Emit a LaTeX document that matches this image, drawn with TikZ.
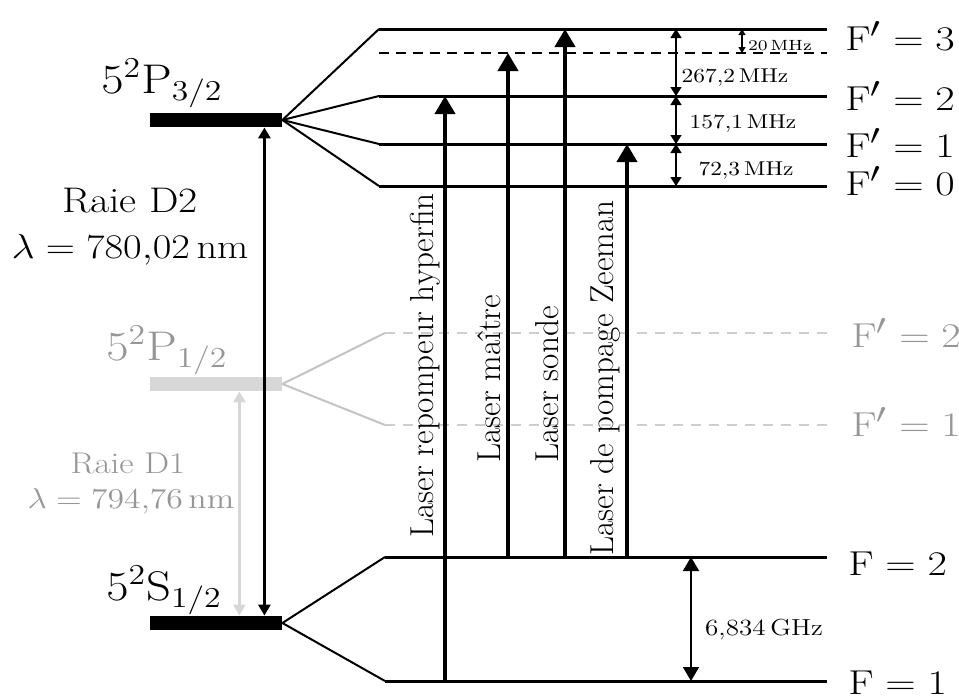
\documentclass[tikz,border=0pt]{standalone}
\usetikzlibrary{arrows.meta}
\definecolor{barg}{RGB}{215,215,215}
\definecolor{fang}{RGB}{195,195,195}
\definecolor{dashg}{RGB}{205,205,205}
\definecolor{txtg}{RGB}{150,150,150}
\newcommand{\wtxt}[1]{\scalebox{1.17}[1]{#1}}
\newcommand{\wftxt}[1]{\scalebox{1.22}[1]{#1}}
\begin{document}
\begin{tikzpicture}[x=0.5pt,y=-0.5pt,
  lvl/.style={line width=1.5pt},
  lvldash/.style={line width=1.2pt, dash pattern=on 5pt off 3.5pt},
  glvl/.style={line width=1pt, dashg, dash pattern=on 5pt off 4pt},
  fan/.style={line width=1pt},
  gfan/.style={line width=1pt, fang},
  bar/.style={rectangle, inner sep=0pt, minimum width=66pt, minimum height=7pt, fill=black},
  laser/.style={line width=2pt, -{Triangle[width=10pt,length=9pt]}},
  trans/.style={line width=1.5pt, {Triangle[width=6pt,length=5.5pt]}-{Triangle[width=6pt,length=5.5pt]}},
  gap/.style={line width=0.7pt, {Triangle[width=5.5pt,length=4.5pt]}-{Triangle[width=5.5pt,length=4.5pt]}},
  tiny/.style={line width=0.6pt, {Triangle[width=3.5pt,length=3pt]}-{Triangle[width=3.5pt,length=3pt]}},
  big/.style={line width=0.8pt, {Triangle[width=8pt,length=7pt]}-{Triangle[width=8pt,length=7pt]}},
  state/.style={anchor=base, font=\fontsize{22}{24}\selectfont},
  raie/.style={anchor=base, font=\fontsize{17.8}{20}\selectfont},
  raieg/.style={anchor=base, font=\fontsize{15}{17}\selectfont, text=txtg},
  flab/.style={anchor=base west, inner sep=0pt, font=\fontsize{19}{21}\selectfont},
  glab/.style={anchor=base, font=\fontsize{10}{12}\selectfont},
  laslab/.style={rotate=90, anchor=base west, inner sep=0pt, font=\fontsize{16.6}{18}\selectfont}
]
\useasboundingbox (0,0) rectangle (959,698);

% level end points
\coordinate (e3L) at (379,29);  \coordinate (e3R) at (827,29);
\coordinate (edL) at (379,53);  \coordinate (edR) at (827,53);
\coordinate (e2L) at (379,96);  \coordinate (e2R) at (827,96);
\coordinate (e1L) at (379,144); \coordinate (e1R) at (827,144);
\coordinate (e0L) at (379,186); \coordinate (e0R) at (827,186);
\coordinate (d2L) at (385,333); \coordinate (d2R) at (827,333);
\coordinate (d1L) at (385,425); \coordinate (d1R) at (827,425);
\coordinate (g2L) at (385,557); \coordinate (g2R) at (827,557);
\coordinate (g1L) at (385,681); \coordinate (g1R) at (827,681);

% bars
\node[bar] (P32) at (216,120) {};
\node[bar, fill=barg] (P12) at (216,384) {};
\node[bar] (S12) at (216,623) {};

% gray D1 part
\draw[gfan] (P12.east) -- (d2L);
\draw[gfan] (P12.east) -- (d1L);
\draw[glvl] (d2L) -- (d2R);
\draw[glvl] (d1L) -- (d1R);
\draw[line width=1.3pt, barg, {Triangle[width=6pt,length=5.5pt]}-{Triangle[width=6pt,length=5.5pt]}]
  ([xshift=-21.5pt]P12.south east) -- ([xshift=-21.5pt]S12.north east);

% hyperfine excited levels
\draw[lvl] (e3L) -- (e3R);
\draw[lvldash] (edL) -- (edR);
\draw[lvl] (e2L) -- (e2R);
\draw[lvl] (e1L) -- (e1R);
\draw[lvl] (e0L) -- (e0R);
\draw[fan] (P32.east) -- (e3L);
\draw[fan] (P32.east) -- (e2L);
\draw[fan] (P32.east) -- (e1L);
\draw[fan] (P32.east) -- (e0L);

% ground levels
\draw[lvl] (g2L) -- (g2R);
\draw[lvl] (g1L) -- (g1R);
\draw[fan] (S12.east) -- (g2L);
\draw[fan] (S12.east) -- (g1L);

% D2 transition
\draw[trans] ([xshift=-9pt]P32.south east) -- ([xshift=-9pt]S12.north east);

% lasers
\coordinate (xr) at (445,0);
\coordinate (xm) at (508,0);
\coordinate (xs) at (565,0);
\coordinate (xz) at (627,0);
\draw[laser] (xr |- g1L) -- (xr |- e2L);
\draw[laser] (xm |- g2L) -- (xm |- edL);
\draw[laser] (xs |- g2L) -- (xs |- e3L);
\draw[laser] (xz |- g2L) -- (xz |- e1L);

\node[laslab] (lr) at (433,538) {Laser repompeur hyperfin};
\node[laslab] (lm) at (500,463) {Laser ma\^{\i}tre};
\node[laslab] (ls) at (558,463) {Laser sonde};
\node[laslab] (lz) at (613,556) {Laser de pompage Zeeman};

% gaps
\coordinate (xg) at (676,0);
\coordinate (xt) at (742,0);
\coordinate (xb) at (691,0);
\draw[gap] (xg |- e3L) -- (xg |- e2L);
\draw[gap] (xg |- e2L) -- (xg |- e1L);
\draw[gap] (xg |- e1L) -- (xg |- e0L);
\draw[tiny] (xt |- e3L) -- (xt |- edL);
\draw[big] (xb |- g2L) -- (xb |- g1L);

\node[glab] (t267) at (735,82) {\wtxt{267,2\,MHz}};
\node[glab] (t157) at (743,128) {\wtxt{157,1\,MHz}};
\node[glab] (t72) at (746,175) {\wtxt{72,3\,MHz}};
\node[glab, font=\fontsize{7.4}{9}\selectfont] (t20) at (780,50) {\wtxt{20\,MHz}};
\node[glab, font=\fontsize{11.6}{14}\selectfont] (t6834) at (764,635) {\wtxt{6,834\,GHz}};

% state labels
\node[state] (tP32) at (162,93) {\wtxt{$5^2\mathrm{P}_{3/2}$}};
\node[state, text=txtg] (tP12) at (167,360) {\wtxt{$5^2\mathrm{P}_{1/2}$}};
\node[state] (tS12) at (164,600) {\wtxt{$5^2\mathrm{S}_{1/2}$}};

\node[raie] (tD2) at (130,212) {\wtxt{Raie D2}};
\node[raie] (tL2) at (130,258) {\wtxt{$\lambda = 780{,}02\,\mathrm{nm}$}};
\node[raieg] (tD1) at (128,473) {\wtxt{Raie D1}};
\node[raieg] (tL1) at (131,508) {\wtxt{$\lambda = 794{,}76\,\mathrm{nm}$}};

% F labels
\node[flab] (f3) at (845,50) {\wftxt{$\mathrm{F}' = 3$}};
\node[flab] (f2) at (845,110) {\wftxt{$\mathrm{F}' = 2$}};
\node[flab] (f1) at (845,157) {\wftxt{$\mathrm{F}' = 1$}};
\node[flab] (f0) at (845,195) {\wftxt{$\mathrm{F}' = 0$}};
\node[flab, text=txtg] (fd2) at (851,347) {\wftxt{$\mathrm{F}' = 2$}};
\node[flab, text=txtg] (fd1) at (851,436) {\wftxt{$\mathrm{F}' = 1$}};
\node[flab] (fg2) at (848,575) {\wftxt{$\mathrm{F} = 2$}};
\node[flab] (fg1) at (848,694) {\wftxt{$\mathrm{F} = 1$}};
\end{tikzpicture}
\end{document}
